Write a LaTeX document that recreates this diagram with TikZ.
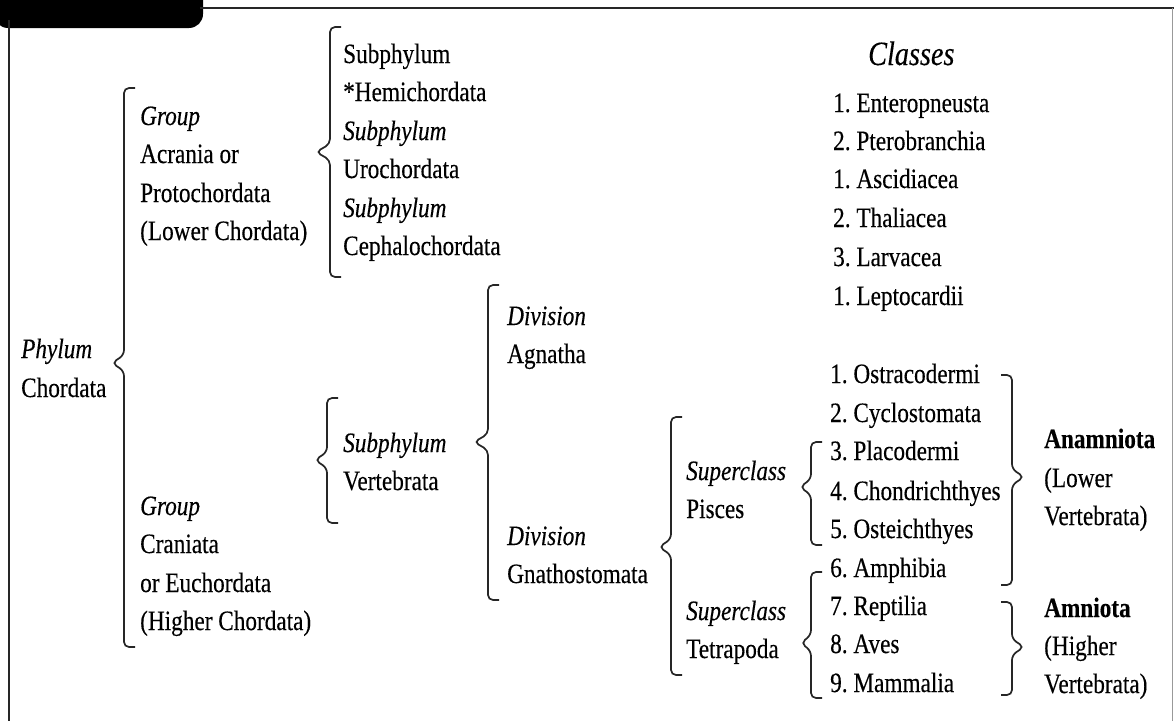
\documentclass[tikz,border=0pt]{standalone}
\usepackage{fontspec}
\setmainfont{Liberation Serif}[FakeStretch=0.83, FakeBold=0.3]
\tikzset{
  txt/.style={anchor=base west, inner sep=0pt, text=black, font=\fontsize{28}{32}\selectfont\frenchspacing},
  itx/.style={txt, font=\fontsize{28}{32}\selectfont\itshape},
  bfx/.style={txt, font=\fontsize{28}{32}\selectfont\bfseries},
  brc/.style={draw=black!85, line width=1.7pt, rounded corners=5pt},
  frameline/.style={draw=black!85, line width=2.6pt},
}
% left-pointing brace: x of vertical, y top, y tip, y bottom, x tip
\newcommand\brL[5]{\draw[brc] (#1+11,#2) -- (#1,#2) -- (#1,#3-8) -- (#5,#3) -- (#1,#3+8) -- (#1,#4) -- (#1+11,#4);}
% right-pointing brace
\newcommand\brR[5]{\draw[brc] (#1-11,#2) -- (#1,#2) -- (#1,#3-8) -- (#5,#3) -- (#1,#3+8) -- (#1,#4) -- (#1-11,#4);}
\begin{document}
\begin{tikzpicture}[x=1pt,y=-1pt]
\useasboundingbox (0,0) rectangle (1174,720);
% frame
\fill[black, rounded corners=14pt] (-6,-30) rectangle (203,28);
\draw[frameline] (200,8) -- (1176,8);
\draw[frameline] (9,20) -- (9,722);
\draw[draw=black!40, line width=1pt] (1172,8) -- (1172,722);

% phylum
\node[itx] (phy1) at (21,358) {Phylum};
\node[txt] (phy2) at (21,397) {Chordata};

% groups
\node[itx] (ga1) at (140,125) {Group};
\node[txt] (ga2) at (140,163) {Acrania or};
\node[txt] (ga3) at (140,202) {Protochordata};
\node[txt] (ga4) at (140,240) {(Lower Chordata)};
\node[itx] (gc1) at (140,515) {Group};
\node[txt] (gc2) at (140,553) {Craniata};
\node[txt] (gc3) at (140,592) {or Euchordata};
\node[txt] (gc4) at (140,630) {(Higher Chordata)};

% subphyla
\node[txt] (sp1) at (343,63) {Subphylum};
\node[txt] (sp2) at (343,101) {*Hemichordata};
\node[itx] (sp3) at (343,140) {Subphylum};
\node[txt] (sp4) at (343,178) {Urochordata};
\node[itx] (sp5) at (343,217) {Subphylum};
\node[txt] (sp6) at (343,255) {Cephalochordata};
\node[itx] (sv1) at (343,452) {Subphylum};
\node[txt] (sv2) at (343,490) {Vertebrata};

% divisions
\node[itx] (da1) at (507,325) {Division};
\node[txt] (da2) at (507,363) {Agnatha};
\node[itx] (dg1) at (507,545) {Division};
\node[txt] (dg2) at (507,583) {Gnathostomata};

% superclasses
\node[itx] (scp1) at (686,480) {Superclass};
\node[txt] (scp2) at (686,518) {Pisces};
\node[itx] (sct1) at (686,620) {Superclass};
\node[txt] (sct2) at (686,658) {Tetrapoda};

% classes
\node[itx, font=\fontsize{34}{38}\selectfont\itshape] (cls) at (868,65) {Classes};
\node[txt] (c1) at (833,112) {1. Enteropneusta};
\node[txt] (c2) at (833,150) {2. Pterobranchia};
\node[txt] (c3) at (833,188) {1. Ascidiacea};
\node[txt] (c4) at (833,227) {2. Thaliacea};
\node[txt] (c5) at (833,266) {3. Larvacea};
\node[txt] (c6) at (833,305) {1. Leptocardii};

\node[txt] (v1) at (830,383) {1. Ostracodermi};
\node[txt] (v2) at (830,422) {2. Cyclostomata};
\node[txt] (v3) at (830,460) {3. Placodermi};
\node[txt] (v4) at (830,500) {4. Chondrichthyes};
\node[txt] (v5) at (830,538) {5. Osteichthyes};
\node[txt] (v6) at (830,577) {6. Amphibia};
\node[txt] (v7) at (830,615) {7. Reptilia};
\node[txt] (v8) at (830,653) {8. Aves};
\node[txt] (v9) at (830,692) {9. Mammalia};

% amniota
\node[bfx] (an1) at (1044,448) {Anamniota};
\node[txt] (an2) at (1044,487) {(Lower};
\node[txt] (an3) at (1044,525) {Vertebrata)};
\node[bfx] (am1) at (1044,617) {Amniota};
\node[txt] (am2) at (1044,655) {(Higher};
\node[txt] (am3) at (1044,693) {Vertebrata)};

% braces
\brL{124}{88}{363}{647}{112}
\brL{330}{27}{152}{277}{316}
\brL{488}{285}{442}{600}{474}
\brL{327}{398}{460}{523}{315}
\brL{671}{417}{547}{675}{659}
\brL{811}{442}{487}{545}{800}
\brL{811}{572}{643}{698}{801}
\brR{1012}{375}{477}{585}{1024}
\brR{1012}{602}{647}{695}{1024}
\end{tikzpicture}
\end{document}
